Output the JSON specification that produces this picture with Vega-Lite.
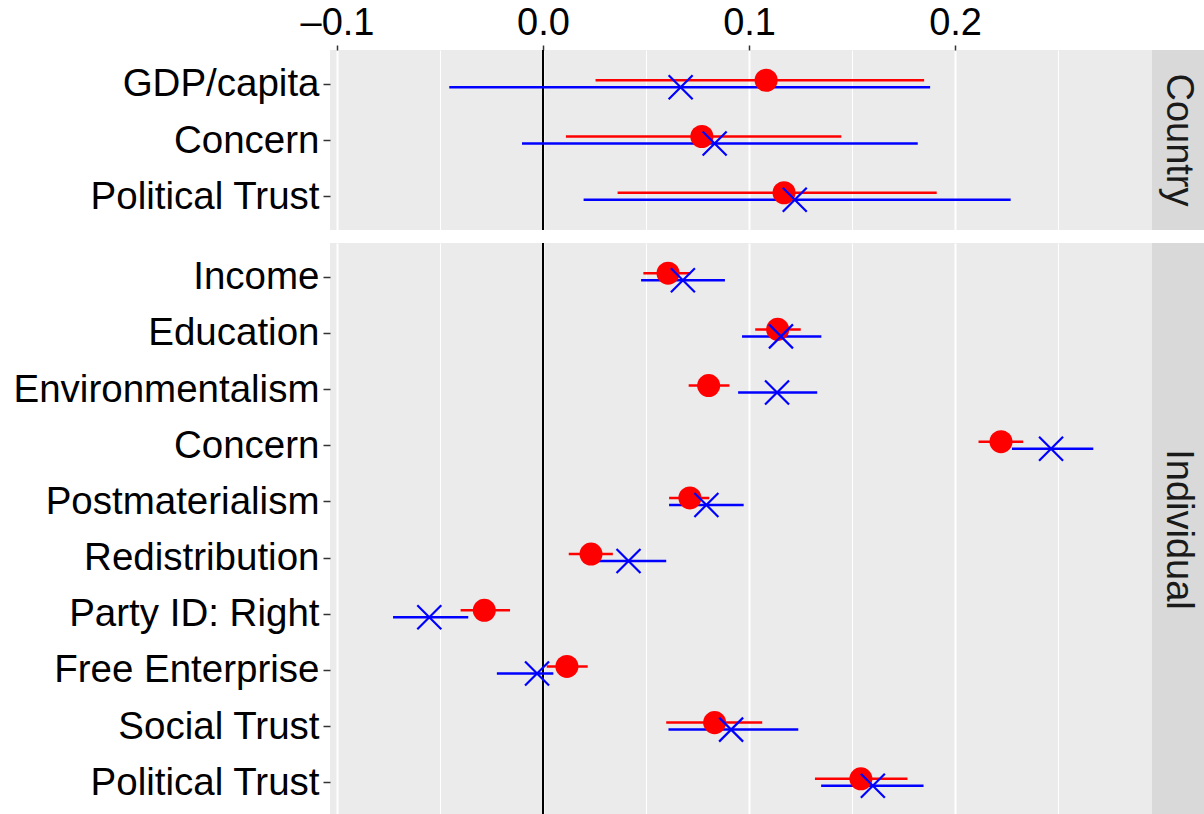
{
  "$schema": "https://vega.github.io/schema/vega-lite/v6.json",
  "padding": 0,
  "background": "white",
  "config": {
    "font": "Liberation Sans",
    "view": {"stroke": null, "fill": "#EBEBEB"},
    "concat": {"spacing": 0}
  },
  "datasets": {
    "est": [
      {"panel": "Country", "variable": "GDP/capita", "model": "A", "est": 0.1083, "lo": 0.0255, "hi": 0.185},
      {"panel": "Country", "variable": "GDP/capita", "model": "B", "est": 0.0668, "lo": -0.0455, "hi": 0.1879},
      {"panel": "Country", "variable": "Concern", "model": "A", "est": 0.0771, "lo": 0.0111, "hi": 0.1448},
      {"panel": "Country", "variable": "Concern", "model": "B", "est": 0.0833, "lo": -0.0102, "hi": 0.1819},
      {"panel": "Country", "variable": "Political Trust", "model": "A", "est": 0.117, "lo": 0.0362, "hi": 0.1911},
      {"panel": "Country", "variable": "Political Trust", "model": "B", "est": 0.1222, "lo": 0.0197, "hi": 0.227},
      {"panel": "Individual", "variable": "Income", "model": "A", "est": 0.0607, "lo": 0.0487, "hi": 0.0716},
      {"panel": "Individual", "variable": "Income", "model": "B", "est": 0.0679, "lo": 0.0476, "hi": 0.0883},
      {"panel": "Individual", "variable": "Education", "model": "A", "est": 0.1139, "lo": 0.103, "hi": 0.1251},
      {"panel": "Individual", "variable": "Education", "model": "B", "est": 0.1155, "lo": 0.0966, "hi": 0.1351},
      {"panel": "Individual", "variable": "Environmentalism", "model": "A", "est": 0.0804, "lo": 0.0707, "hi": 0.0905},
      {"panel": "Individual", "variable": "Environmentalism", "model": "B", "est": 0.1136, "lo": 0.0947, "hi": 0.1331},
      {"panel": "Individual", "variable": "Concern", "model": "A", "est": 0.2223, "lo": 0.2114, "hi": 0.2331},
      {"panel": "Individual", "variable": "Concern", "model": "B", "est": 0.2466, "lo": 0.2276, "hi": 0.2671},
      {"panel": "Individual", "variable": "Postmaterialism", "model": "A", "est": 0.0713, "lo": 0.0612, "hi": 0.0807},
      {"panel": "Individual", "variable": "Postmaterialism", "model": "B", "est": 0.0793, "lo": 0.0612, "hi": 0.0974},
      {"panel": "Individual", "variable": "Redistribution", "model": "A", "est": 0.0233, "lo": 0.0125, "hi": 0.0339},
      {"panel": "Individual", "variable": "Redistribution", "model": "B", "est": 0.0415, "lo": 0.0269, "hi": 0.0598},
      {"panel": "Individual", "variable": "Party ID: Right", "model": "A", "est": -0.0285, "lo": -0.04, "hi": -0.016},
      {"panel": "Individual", "variable": "Party ID: Right", "model": "B", "est": -0.0552, "lo": -0.0728, "hi": -0.0363},
      {"panel": "Individual", "variable": "Free Enterprise", "model": "A", "est": 0.0116, "lo": 0.0018, "hi": 0.0217},
      {"panel": "Individual", "variable": "Free Enterprise", "model": "B", "est": -0.0029, "lo": -0.0224, "hi": 0.005},
      {"panel": "Individual", "variable": "Social Trust", "model": "A", "est": 0.0833, "lo": 0.0598, "hi": 0.1064},
      {"panel": "Individual", "variable": "Social Trust", "model": "B", "est": 0.0913, "lo": 0.0609, "hi": 0.1239},
      {"panel": "Individual", "variable": "Political Trust", "model": "A", "est": 0.1543, "lo": 0.132, "hi": 0.1769},
      {"panel": "Individual", "variable": "Political Trust", "model": "B", "est": 0.1601, "lo": 0.135, "hi": 0.1847}
    ],
    "strips": [
      {"panel": "Country"},
      {"panel": "Individual"}
    ]
  },
  "vconcat": [
    {
      "hconcat": [
        {
          "width": 822,
          "height": 180,
          "data": {"name": "est"},
          "transform": [{"filter": "datum.panel === 'Country'"}],
          "encoding": {
            "y": {
              "field": "variable", "type": "nominal",
              "scale": {"type": "point", "padding": 0.6, "domain": ["GDP/capita", "Concern", "Political Trust"]},
              "axis": {"title": null, "grid": false, "domain": false, "tickSize": 7, "tickWidth": 1.5, "tickColor": "#333333", "labelPadding": 4, "labelFontSize": 38.5, "labelLimit": 500, "labelColor": "#000000", "labelFont": "Liberation Sans", "minExtent": 330, "maxExtent": 330}
            }
          },
          "layer": [
            {
              "mark": {"type": "rule", "color": "black", "strokeWidth": 1.5},
              "encoding": {
                "x": {
                  "datum": 0, "type": "quantitative",
                  "scale": {"domain": [-0.1034, 0.2956], "nice": false, "zero": false},
                  "axis": {
                    "orient": "top", "title": null, "domain": false,
                    "values": [-0.1, -0.05, 0, 0.05, 0.1, 0.15, 0.2, 0.25],
                    "labelExpr": "round(datum.value*20) % 2 !== 0 ? '' : (datum.value < -0.001 ? '\u2013' + format(abs(datum.value), '.1f') : format(datum.value, '.1f'))",
                    "labelFontSize": 38, "labelColor": "#000000", "labelPadding": 3,
                    "tickSize": 5, "tickWidth": 1.5, "tickColor": "#333333",
                    "tickOpacity": {"condition": {"test": "round(datum.value*20) % 2 !== 0", "value": 0}, "value": 1},
                    "grid": true, "gridColor": "#FFFFFF",
                    "gridWidth": {"condition": {"test": "round(datum.value*20) % 2 !== 0", "value": 1}, "value": 2},
                    "minExtent": 50, "maxExtent": 50
                  }
                },
                "y": null
              }
            },
            {
              "transform": [{"filter": "datum.model === 'A'"}],
              "mark": {"type": "rule", "color": "#FF0000", "strokeWidth": 2.5, "yOffset": -3.5},
              "encoding": {"x": {"field": "lo", "type": "quantitative"}, "x2": {"field": "hi"}}
            },
            {
              "transform": [{"filter": "datum.model === 'B'"}],
              "mark": {"type": "rule", "color": "#0000FF", "strokeWidth": 2.5, "yOffset": 3.5},
              "encoding": {"x": {"field": "lo", "type": "quantitative"}, "x2": {"field": "hi"}}
            },
            {
              "transform": [{"filter": "datum.model === 'A'"}],
              "mark": {"type": "point", "shape": "circle", "filled": true, "color": "#FF0000", "opacity": 1, "size": 530, "yOffset": -3.5},
              "encoding": {"x": {"field": "est", "type": "quantitative"}}
            },
            {
              "transform": [{"filter": "datum.model === 'B'"}],
              "mark": {"type": "point", "shape": "M-1,-1L1,1M-1,1L1,-1", "filled": false, "color": "#0000FF", "strokeWidth": 2.2, "opacity": 1, "size": 576, "yOffset": 3.5},
              "encoding": {"x": {"field": "est", "type": "quantitative"}}
            }
          ]
        },
        {
          "width": 52,
          "height": 180,
          "view": {"fill": "#D9D9D9", "stroke": null},
          "data": {"name": "strips"},
          "transform": [{"filter": "datum.panel === 'Country'"}],
          "mark": {"type": "text", "angle": 90, "fontSize": 38, "color": "#1A1A1A", "align": "center", "baseline": "middle"},
          "encoding": {"text": {"field": "panel"}}
        }
      ]
    },
    {
      "hconcat": [
        {
          "width": 822,
          "height": 573,
          "data": {"name": "est"},
          "transform": [{"filter": "datum.panel === 'Individual'"}],
          "encoding": {
            "y": {
              "field": "variable", "type": "nominal",
              "scale": {"type": "point", "padding": 0.6, "domain": ["Income", "Education", "Environmentalism", "Concern", "Postmaterialism", "Redistribution", "Party ID: Right", "Free Enterprise", "Social Trust", "Political Trust"]},
              "axis": {"title": null, "grid": false, "domain": false, "tickSize": 7, "tickWidth": 1.5, "tickColor": "#333333", "labelPadding": 4, "labelFontSize": 38.5, "labelLimit": 500, "labelColor": "#000000", "labelFont": "Liberation Sans", "minExtent": 330, "maxExtent": 330}
            }
          },
          "layer": [
            {
              "mark": {"type": "rule", "color": "black", "strokeWidth": 1.5},
              "encoding": {
                "x": {
                  "datum": 0, "type": "quantitative",
                  "scale": {"domain": [-0.1034, 0.2956], "nice": false, "zero": false},
                  "axis": {
                    "orient": "bottom", "title": null, "domain": false, "labels": false, "ticks": false,
                    "values": [-0.1, -0.05, 0, 0.05, 0.1, 0.15, 0.2, 0.25],
                    "grid": true, "gridColor": "#FFFFFF",
                    "gridWidth": {"condition": {"test": "round(datum.value*20) % 2 !== 0", "value": 1}, "value": 2},
                    "minExtent": 0, "maxExtent": 0
                  }
                },
                "y": null
              }
            },
            {
              "transform": [{"filter": "datum.model === 'A'"}],
              "mark": {"type": "rule", "color": "#FF0000", "strokeWidth": 2.5, "yOffset": -3.5},
              "encoding": {"x": {"field": "lo", "type": "quantitative"}, "x2": {"field": "hi"}}
            },
            {
              "transform": [{"filter": "datum.model === 'B'"}],
              "mark": {"type": "rule", "color": "#0000FF", "strokeWidth": 2.5, "yOffset": 3.5},
              "encoding": {"x": {"field": "lo", "type": "quantitative"}, "x2": {"field": "hi"}}
            },
            {
              "transform": [{"filter": "datum.model === 'A'"}],
              "mark": {"type": "point", "shape": "circle", "filled": true, "color": "#FF0000", "opacity": 1, "size": 530, "yOffset": -3.5},
              "encoding": {"x": {"field": "est", "type": "quantitative"}}
            },
            {
              "transform": [{"filter": "datum.model === 'B'"}],
              "mark": {"type": "point", "shape": "M-1,-1L1,1M-1,1L1,-1", "filled": false, "color": "#0000FF", "strokeWidth": 2.2, "opacity": 1, "size": 576, "yOffset": 3.5},
              "encoding": {"x": {"field": "est", "type": "quantitative"}}
            }
          ]
        },
        {
          "width": 52,
          "height": 573,
          "view": {"fill": "#D9D9D9", "stroke": null},
          "data": {"name": "strips"},
          "transform": [{"filter": "datum.panel === 'Individual'"}],
          "mark": {"type": "text", "angle": 90, "fontSize": 38, "color": "#1A1A1A", "align": "center", "baseline": "middle"},
          "encoding": {"text": {"field": "panel"}}
        }
      ]
    }
  ],
  "spacing": 11
}
